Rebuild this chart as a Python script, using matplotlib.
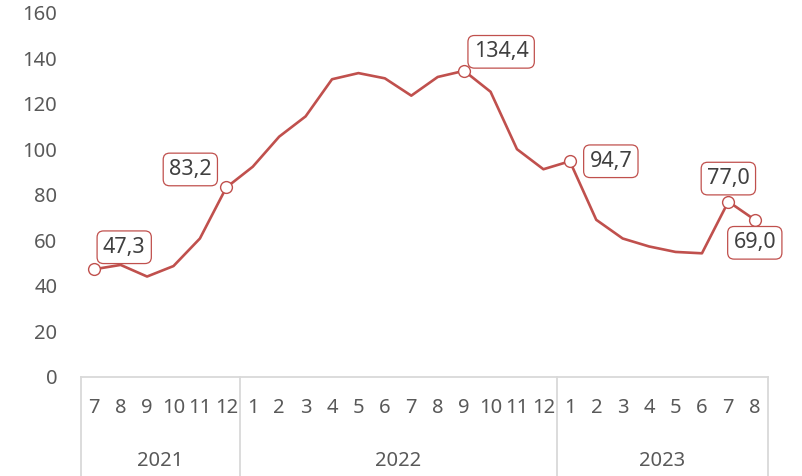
import matplotlib
matplotlib.use("Agg")
import matplotlib.pyplot as plt
import matplotlib.transforms as mtransforms

# monthly values, 2021-07 .. 2023-08
years = ["2021", "2022", "2023"]
months = [7, 8, 9, 10, 11, 12,
          1, 2, 3, 4, 5, 6, 7, 8, 9, 10, 11, 12,
          1, 2, 3, 4, 5, 6, 7, 8]
year_counts = [6, 12, 8]
values = [47.3, 49.2, 44.1, 48.7, 60.8, 83.2,
          92.3, 105.5, 114.4, 130.7, 133.4, 131.1, 123.5, 131.7, 134.4, 125.2, 100.0, 91.2,
          94.7, 69.0, 60.8, 57.3, 54.9, 54.3, 77.0, 69.0]

# labelled points: index -> offset of label (pixels)
labelled = {0: (30, 22), 5: (-36, 18), 14: (37, 19), 18: (41, 0), 24: (0, 23), 25: (0, -23)}

RED = "#C0504D"
GRAY_TXT = "#595959"
AXIS_GRAY = "#D9D9D9"

plt.rcParams["font.family"] = ["Noto Sans", "DejaVu Sans"]

fig = plt.figure(figsize=(8.03, 4.76), dpi=100)
ax = fig.add_axes([81 / 803, 99 / 476, 687 / 803, 364.5 / 476])

x = list(range(len(values)))
ax.plot(x, values, color=RED, lw=1.9, zorder=2)

mx = list(labelled.keys())
ax.plot(mx, [values[i] for i in mx], "o", ms=8.5, mfc="white", mec=RED, mew=1.0, zorder=3)

for i, (dx, dy) in labelled.items():
    ax.annotate(f"{values[i]:.1f}".replace(".", ","), (i, values[i]),
                xytext=(dx, dy), textcoords="offset pixels",
                ha="center", va="center", fontsize=15.5, color="#404040",
                bbox=dict(boxstyle="round,pad=0.27,rounding_size=0.3", fc="white", ec=RED, lw=0.9),
                zorder=4)

ax.set_xlim(-0.5, len(values) - 0.5)
ax.set_ylim(0, 160)
ax.set_yticks(range(0, 161, 20))
ax.tick_params(axis="y", length=0, pad=17, labelsize=14.5, labelcolor=GRAY_TXT)

ax.set_xticks(x)
ax.set_xticklabels([str(m) for m in months])
ax.tick_params(axis="x", length=0, pad=15, labelsize=14.5, labelcolor=GRAY_TXT)

for s in ["top", "right", "left"]:
    ax.spines[s].set_visible(False)
ax.spines["bottom"].set_color(AXIS_GRAY)
ax.spines["bottom"].set_linewidth(1.3)

# year group dividers and labels
trans = mtransforms.blended_transform_factory(ax.transData, ax.transAxes)
bounds = [-0.5]
for c in year_counts:
    bounds.append(bounds[-1] + c)
for b in bounds:
    ax.plot([b, b], [0, -0.275], color=AXIS_GRAY, lw=1.3, transform=trans, clip_on=False)
for yr, a, b in zip(years, bounds[:-1], bounds[1:]):
    ax.text((a + b) / 2, -0.23, yr, transform=trans, ha="center", va="center",
            fontsize=14.5, color=GRAY_TXT)

fig.savefig("out.png", dpi=100)
